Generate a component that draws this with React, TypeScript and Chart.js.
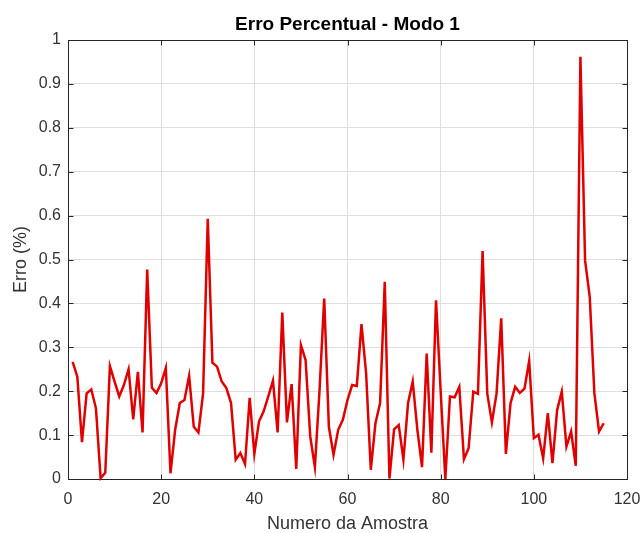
import { useEffect, useRef } from 'react';
import { Chart, registerables } from 'chart.js';

Chart.register(...registerables);

const chartTitle = 'Erro Percentual - Modo 1';
const xAxisLabel = 'Numero da Amostra';
const yAxisLabel = 'Erro (%)';

const xTickValues = [0, 20, 40, 60, 80, 100, 120];
const yTickValues = [0, 0.1, 0.2, 0.3, 0.4, 0.5, 0.6, 0.7, 0.8, 0.9, 1];

// Percent error for samples 1..115
const errorValues = [
  0.267, 0.233, 0.084, 0.195, 0.204, 0.161, 0.002, 0.014, 0.257, 0.222,
  0.188, 0.214, 0.25, 0.136, 0.244, 0.106, 0.477, 0.208, 0.196, 0.218,
  0.253, 0.013, 0.112, 0.173, 0.18, 0.235, 0.119, 0.106, 0.195, 0.593,
  0.265, 0.256, 0.222, 0.207, 0.173, 0.044, 0.059, 0.034, 0.185, 0.057,
  0.131, 0.154, 0.188, 0.224, 0.106, 0.379, 0.129, 0.216, 0.023, 0.305,
  0.271, 0.097, 0.027, 0.203, 0.411, 0.119, 0.055, 0.112, 0.135, 0.18,
  0.214, 0.212, 0.353, 0.24, 0.021, 0.127, 0.173, 0.449, 0.001, 0.113,
  0.123, 0.044, 0.173, 0.222, 0.112, 0.027, 0.286, 0.06, 0.407, 0.2,
  0.0, 0.188, 0.186, 0.21, 0.045, 0.07, 0.199, 0.194, 0.519, 0.195,
  0.129, 0.195, 0.366, 0.057, 0.173, 0.21, 0.196, 0.206, 0.269, 0.093,
  0.101, 0.047, 0.15, 0.036, 0.157, 0.199, 0.074, 0.108, 0.03, 0.962,
  0.498, 0.415, 0.195, 0.108, 0.127,
];

const FONT = "'Liberation Sans', Arial, Helvetica, sans-serif";
const AXIS_COLOR = '#262626';

// Box around the plot with inward tick marks on all four sides
const axesBox = {
  id: 'axesBox',
  beforeDatasetsDraw(chart: any) {
    const { ctx, chartArea, scales } = chart;
    const { left, right, top, bottom } = chartArea;
    const tickLen = 5;
    const a = (v: number) => Math.round(v) + 0.5;
    ctx.save();
    ctx.strokeStyle = AXIS_COLOR;
    ctx.lineWidth = 1;
    ctx.beginPath();
    ctx.rect(a(left), a(top), Math.round(right) - Math.round(left), Math.round(bottom) - Math.round(top));
    for (const t of scales.x.ticks) {
      const px = a(scales.x.getPixelForValue(t.value));
      ctx.moveTo(px, a(bottom));
      ctx.lineTo(px, a(bottom) - tickLen);
      ctx.moveTo(px, a(top));
      ctx.lineTo(px, a(top) + tickLen);
    }
    for (const t of scales.y.ticks) {
      const py = a(scales.y.getPixelForValue(t.value));
      ctx.moveTo(a(left), py);
      ctx.lineTo(a(left) + tickLen, py);
      ctx.moveTo(a(right), py);
      ctx.lineTo(a(right) - tickLen, py);
    }
    ctx.stroke();
    ctx.restore();
  },
};

export default function App() {
  const canvasRef = useRef<HTMLCanvasElement | null>(null);

  useEffect(() => {
    document.body.style.margin = '0';
    const canvas = canvasRef.current;
    if (!canvas) return;

    const points = errorValues.map((v, i) => ({ x: i + 1, y: v }));

    const chart = new Chart(canvas, {
      type: 'line',
      data: {
        datasets: [
          {
            data: points,
            borderColor: '#e00000',
            borderWidth: 2.5,
            pointRadius: 0,
            tension: 0,
            fill: false,
            clip: false as any,
          },
        ],
      },
      options: {
        animation: false,
        responsive: false,
        maintainAspectRatio: false,
        layout: { padding: { left: 0, right: 15, top: 0, bottom: 0 } },
        plugins: {
          legend: { display: false },
          tooltip: { enabled: false },
          title: {
            display: true,
            text: chartTitle,
            fullSize: false,
            color: '#000000',
            font: { family: FONT, size: 19, weight: 'bold', lineHeight: 1.2 },
            padding: { top: 13, bottom: 4.2 },
          },
        },
        scales: {
          x: {
            type: 'linear',
            min: 0,
            max: 120,
            afterBuildTicks: (scale: any) => {
              scale.ticks = xTickValues.map((value) => ({ value }));
            },
            afterFit: (scale: any) => {
              scale.height = 54;
              scale.paddingLeft = 0;
              scale.paddingRight = 0;
            },
            grid: { color: '#dfdfdf', lineWidth: 1, drawTicks: false },
            border: { display: false },
            ticks: {
              color: '#333333',
              padding: 11,
              maxRotation: 0,
              font: { family: FONT, size: 16 },
            },
            title: {
              display: true,
              text: xAxisLabel,
              color: '#333333',
              font: { family: FONT, size: 18, lineHeight: 1 },
              padding: { top: 0, bottom: 0 },
            },
          },
          y: {
            type: 'linear',
            min: 0,
            max: 1,
            afterBuildTicks: (scale: any) => {
              scale.ticks = yTickValues.map((value) => ({ value }));
            },
            afterFit: (scale: any) => {
              scale.width = 68;
              scale.paddingTop = 0;
              scale.paddingBottom = 0;
            },
            grid: { color: '#dfdfdf', lineWidth: 1, drawTicks: false },
            border: { display: false },
            ticks: {
              color: '#333333',
              padding: 7,
              font: { family: FONT, size: 16 },
              callback: (v: any) => String(Math.round(Number(v) * 10) / 10),
            },
            title: {
              display: true,
              text: yAxisLabel,
              color: '#333333',
              font: { family: FONT, size: 18, lineHeight: 1 },
              padding: { top: 12, bottom: 0 },
            },
          },
        },
      },
      plugins: [axesBox],
    });

    return () => chart.destroy();
  }, []);

  return (
    <div style={{ width: 642, height: 533, background: '#ffffff' }}>
      <canvas ref={canvasRef} width={642} height={533} />
    </div>
  );
}
